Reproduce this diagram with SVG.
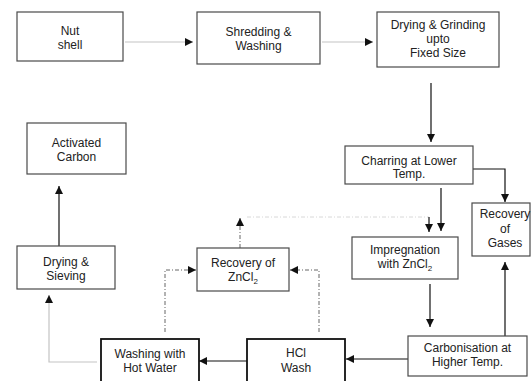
<svg xmlns="http://www.w3.org/2000/svg" width="531" height="381" viewBox="0 0 531 381">
<defs>
<style>
.box{fill:#fff;stroke:#4a4a4a;stroke-width:1.2}
.bold{fill:#fff;stroke:#111;stroke-width:1.8}
.t{font-family:"Liberation Sans",Arial,sans-serif;font-size:12px;fill:#222;text-anchor:middle}
.c{fill:none;stroke:#111;stroke-width:1.2}
.lt{fill:none;stroke:#c4c4c4;stroke-width:1.2}
.dd{fill:none;stroke:#666;stroke-width:1;stroke-dasharray:4 2 1 2}
.fd{fill:none;stroke:#d8d8d8;stroke-width:1;stroke-dasharray:4 2 1 2}
.ah{fill:#111}
</style>
<marker id="a" viewBox="0 0 10 10" refX="10" refY="5" markerWidth="8" markerHeight="8" markerUnits="userSpaceOnUse" orient="auto">
<path class="ah" d="M0,0 L10,5 L0,10 z"/>
</marker>
</defs>
<rect width="531" height="381" fill="#fff"/>
<g id="connectors">
<path class="lt" d="M125,42 H193" marker-end="url(#a)"/>
<path class="lt" d="M322,42 H373" marker-end="url(#a)"/>
<path class="c" d="M431,83 V142" marker-end="url(#a)"/>
<path class="c" d="M473,169 H505 V202" marker-end="url(#a)"/>
<path class="c" d="M441,188 V231" marker-end="url(#a)"/>
<path class="fd" d="M247,217 H429"/>
<path class="c" d="M429,217 V232" stroke-width="0.8" marker-end="url(#a)"/>
<path class="c" d="M430,284 V327" marker-end="url(#a)"/>
<path class="c" d="M505,336 V262" marker-end="url(#a)"/>
<path class="c" d="M408,359 H346" marker-end="url(#a)"/>
<path class="c" d="M247,361 H199" marker-end="url(#a)"/>
<path class="lt" d="M97,362 H49 V295" marker-end="url(#a)"/>
<path class="c" d="M59,246 V186" marker-end="url(#a)"/>
<path class="dd" d="M165,332 V270 H196" marker-end="url(#a)"/>
<path class="dd" d="M319,332 V270 H290" marker-end="url(#a)"/>
<path class="dd" d="M240,248 V218" marker-end="url(#a)"/>
</g>
<g id="nut-shell">
<rect class="box" x="17" y="12" width="106" height="49"/>
<text class="t" x="70" y="35">Nut</text>
<text class="t" x="70" y="49">shell</text>
</g>
<g id="shredding">
<rect class="box" x="197" y="12" width="123" height="52"/>
<text class="t" x="258.5" y="36">Shredding &amp;</text>
<text class="t" x="258.5" y="50">Washing</text>
</g>
<g id="drying-grinding">
<rect class="box" x="377" y="12" width="122" height="55"/>
<text class="t" x="438" y="29">Drying &amp; Grinding</text>
<text class="t" x="438" y="43">upto</text>
<text class="t" x="438" y="57">Fixed Size</text>
</g>
<g id="charring">
<rect class="box" x="345" y="146" width="128" height="38"/>
<text class="t" x="409" y="165">Charring at Lower</text>
<text class="t" x="409" y="178">Temp.</text>
</g>
<g id="recovery-gases">
<rect class="box" x="472" y="203" width="58" height="53"/>
<text class="t" x="505" y="218">Recovery</text>
<text class="t" x="505" y="233">of</text>
<text class="t" x="505" y="247">Gases</text>
</g>
<g id="impregnation">
<rect class="box" x="352" y="237" width="106" height="42"/>
<text class="t" x="405" y="254">Impregnation</text>
<text class="t" x="405" y="268">with ZnCl<tspan font-size="8" dy="3">2</tspan></text>
</g>
<g id="carbonisation">
<rect class="box" x="408" y="336" width="119" height="40"/>
<text class="t" x="467.5" y="352">Carbonisation at</text>
<text class="t" x="467.5" y="366">Higher Temp.</text>
</g>
<g id="hcl-wash">
<rect class="bold" x="247" y="339" width="98" height="50"/>
<text class="t" x="296" y="357">HCl</text>
<text class="t" x="296" y="372">Wash</text>
</g>
<g id="washing-hot-water">
<rect class="bold" x="101" y="339" width="98" height="50"/>
<text class="t" x="150" y="358">Washing with</text>
<text class="t" x="150" y="372">Hot Water</text>
</g>
<g id="recovery-zncl2">
<rect class="box" x="197" y="248" width="92" height="43"/>
<text class="t" x="243" y="267">Recovery of</text>
<text class="t" x="243" y="281">ZnCl<tspan font-size="8" dy="3">2</tspan></text>
</g>
<g id="drying-sieving">
<rect class="box" x="17" y="246" width="98" height="43"/>
<text class="t" x="66" y="266">Drying &amp;</text>
<text class="t" x="66" y="280">Sieving</text>
</g>
<g id="activated-carbon">
<rect class="box" x="27" y="123" width="99" height="51"/>
<text class="t" x="76.5" y="147">Activated</text>
<text class="t" x="76.5" y="161">Carbon</text>
</g>
</svg>
